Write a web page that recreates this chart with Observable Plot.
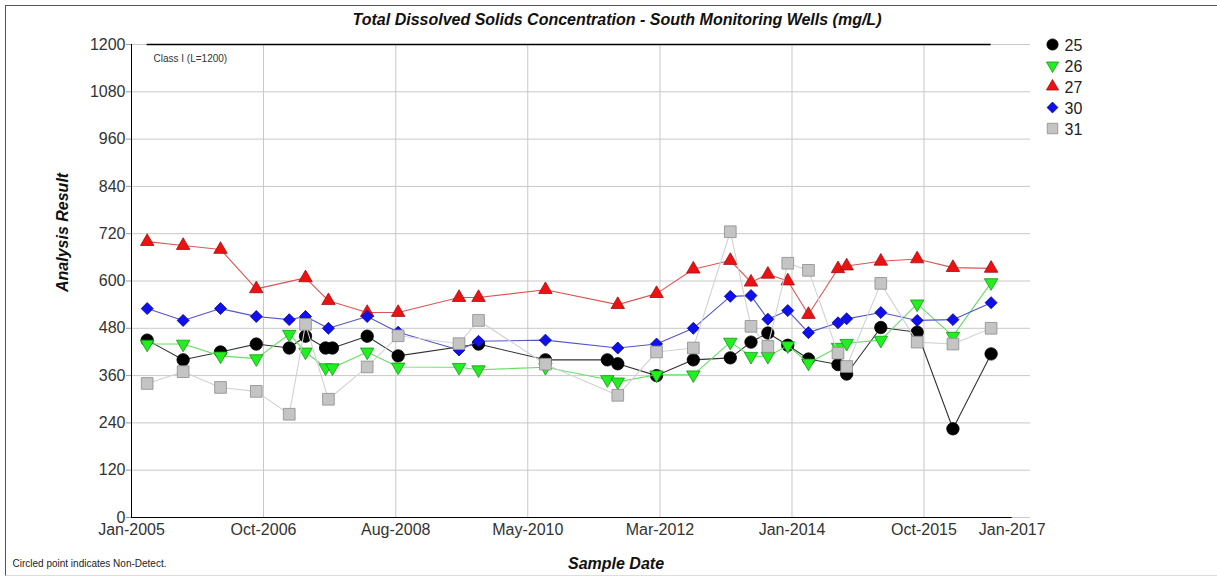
<!DOCTYPE html>
<html>
<head>
<meta charset="utf-8">
<script src="https://cdn.jsdelivr.net/npm/d3@7"></script>
<script src="https://cdn.jsdelivr.net/npm/@observablehq/plot@0.6"></script>
<style>
  body { margin: 0; background: #fff; }
  #wrap { position: relative; width: 1217px; height: 576px; overflow: hidden; background: #fff; }
  #wrap svg { position: absolute; left: 0; top: 0; }
  #border { position: absolute; left: 5px; top: 5px; width: 1212px; height: 569px;
            border-left: 1px solid #555; border-top: 1px solid #555; border-bottom: 1px solid #ddd;
            pointer-events: none; }
</style>
</head>
<body>
<div id="wrap"><div id="border"></div></div>
<script>
// ---------- data ----------
const sampleDates = [
  "2005-03-20","2005-09-15","2006-03-20","2006-09-14","2007-02-25","2007-05-17",
  "2007-08-25","2007-09-08","2007-09-28","2008-03-19","2008-08-20","2009-06-19",
  "2009-09-24","2010-08-23","2011-06-27","2011-08-18","2012-02-27","2012-08-28",
  "2013-02-28","2013-06-11","2013-09-03","2013-12-11","2014-03-24","2014-08-18",
  "2014-09-30","2015-03-19","2015-09-16","2016-03-12","2016-09-18"
];
const well25 = [450,400,420,440,430,460,430,null,430,460,410,null,440,400,400,390,360,400,405,445,468,437,402,388,364,482,470,225,415];
const well26 = [440,440,410,403,465,420,380,null,380,420,382,381,375,381,350,344,362,362,445,409,409,436,392,432,442,450,542,460,596];
const well27 = [700,690,680,580,null,608,null,550,null,520,520,558,558,578,null,540,568,630,652,597,617,600,515,631,638,650,656,634,632];
const well30 = [530,500,530,510,502,510,null,480,null,510,470,425,447,450,null,430,440,480,561,563,503,525,469,494,504,520,500,502,545];
const well31 = [340,370,330,320,262,490,null,300,null,382,461,441,500,389,null,310,420,430,725,485,434,645,627,417,383,594,445,440,480];

const wellNames = ["25", "26", "27", "30", "31"];
const wellValues = [well25, well26, well27, well30, well31];

const xTickDates  = ["2005-01-01","2006-10-20","2008-08-08","2010-05-27","2012-03-15","2014-01-01","2015-10-20","2017-01-01"];
const xTickLabels = ["Jan-2005","Oct-2006","Aug-2008","May-2010","Mar-2012","Jan-2014","Oct-2015","Jan-2017"];
const xDomain = ["2005-01-01", "2017-04-02"];
const yTicks = [0, 120, 240, 360, 480, 600, 720, 840, 960, 1080, 1200];
const limitValue = 1200;
const limitLabel = "Class I (L=1200)";
const titleText = "Total Dissolved Solids Concentration - South Monitoring Wells (mg/L)";
const yLabel = "Analysis Result";
const xLabel = "Sample Date";
const footnote = "Circled point indicates Non-Detect.";

// ---------- styles ----------
const triangleDown = {
  draw(context, size) {
    const s3 = Math.sqrt(3);
    const y = -Math.sqrt(size / (s3 * 3));
    context.moveTo(0, -y * 2);
    context.lineTo(-s3 * y, y);
    context.lineTo(s3 * y, y);
    context.closePath();
  }
};
const styles = {
  "25": {symbol: "circle",   r: 6.2, fill: "#000000", stroke: "#000000", line: "#333333"},
  "26": {symbol: triangleDown, r: 5.0, fill: "#22ee22", stroke: "#119911", line: "#66dd66"},
  "27": {symbol: "triangle", r: 5.0, fill: "#ee1111", stroke: "#991111", line: "#dd5555"},
  "30": {symbol: "diamond2", r: 5.4, fill: "#1010ee", stroke: "#000088", line: "#5555cc"},
  "31": {symbol: "square",   r: 6.6, fill: "#c4c4c4", stroke: "#8c8c8c", line: "#d2d2d2"}
};

// ---------- build ----------
const parse = s => new Date(s + "T00:00:00Z");
const dates = sampleDates.map(parse);
const series = wellNames.map((w, k) => ({
  well: w,
  rows: dates.map((d, i) => ({date: d, value: wellValues[k][i], well: w})).filter(r => r.value != null)
}));
const allRows = series.flatMap(s => s.rows);
const firstDate = d3.min(allRows, r => r.date);
const lastDate = d3.max(allRows, r => r.date);
const tickDates = xTickDates.map(parse);
const labelByTime = new Map(tickDates.map((d, i) => [+d, xTickLabels[i]]));
const x0 = parse(xDomain[0]);

const font = "'Liberation Sans', Arial, sans-serif";

const marks = [
  Plot.gridY(yTicks, {stroke: "#c8c8c8", strokeOpacity: 1}),
  Plot.gridX(tickDates.slice(1, -1), {stroke: "#c8c8c8", strokeOpacity: 1}),
  Plot.ruleY([0], {x1: () => x0, x2: () => tickDates[tickDates.length - 1], stroke: "#000"}),
  Plot.ruleX([x0], {stroke: "#000"}),
  Plot.ruleY([limitValue], {x1: () => firstDate, x2: () => lastDate, stroke: "#000", strokeWidth: 1.6}),
  Plot.axisY(yTicks, {tickSize: 5, tickPadding: 1, stroke: "#999", fill: "#333", fontSize: 16, label: null, tickFormat: d => String(d)}),
  Plot.axisX(tickDates, {tickSize: 0, tickPadding: 6, fill: "#333", fontSize: 16, label: null, tickFormat: d => labelByTime.get(+d)}),
  Plot.text([limitLabel], {frameAnchor: "top-left", lineAnchor: "middle", dx: 22, dy: 14, text: d => d, textAnchor: "start", fontSize: 10, fill: "#333"}),
  Plot.text([titleText], {frameAnchor: "top", lineAnchor: "middle", dx: 36, dy: -25, text: d => d, fontSize: 16, fontWeight: "bold", fontStyle: "italic", fill: "#111"}),
  Plot.text([yLabel], {frameAnchor: "left", lineAnchor: "middle", dx: -69, dy: 11, rotate: -90, text: d => d, fontSize: 16, fontWeight: "bold", fontStyle: "italic", fill: "#111"}),
  Plot.text([xLabel], {frameAnchor: "bottom", lineAnchor: "middle", dx: 35, dy: 46, text: d => d, fontSize: 16, fontWeight: "bold", fontStyle: "italic", fill: "#111"}),
  Plot.text([footnote], {frameAnchor: "bottom-left", lineAnchor: "middle", dx: -119, dy: 46, text: d => d, textAnchor: "start", fontSize: 10, fill: "#222"})
];

for (const s of series) {
  const st = styles[s.well];
  marks.push(Plot.line(s.rows, {x: "date", y: "value", stroke: st.line, strokeWidth: 1.1}));
  marks.push(Plot.dot(s.rows, {x: "date", y: "value", symbol: st.symbol, r: st.r, fill: st.fill, stroke: st.stroke, strokeWidth: 0.8}));
}

wellNames.forEach((w, i) => {
  const st = styles[w];
  marks.push(Plot.dot([w], {frameAnchor: "top-right", dx: 22, dy: i * 21, symbol: st.symbol, r: st.r * 0.9, fill: st.fill, stroke: st.stroke, strokeWidth: 0.8}));
  marks.push(Plot.text([w], {frameAnchor: "top-right", lineAnchor: "middle", dx: 34, dy: i * 21 + 1, text: d => d, textAnchor: "start", fontSize: 16, fill: "#222"}));
});

const chart = Plot.plot({
  width: 1217,
  height: 576,
  marginLeft: 131,
  marginRight: 187,
  marginTop: 44,
  marginBottom: 59,
  style: {fontFamily: font, fontSize: "16px", color: "#222", background: "transparent", overflow: "visible"},
  x: {type: "utc", domain: xDomain.map(parse)},
  y: {domain: [0, 1200]},
  marks
});
document.getElementById("wrap").insertBefore(chart, document.getElementById("border"));
</script>
</body>
</html>
